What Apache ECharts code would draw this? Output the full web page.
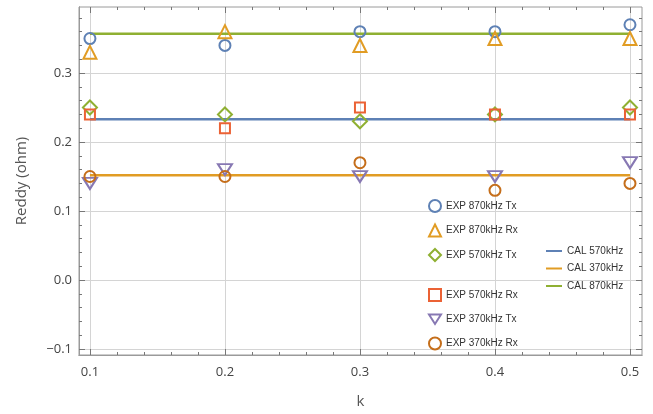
<!DOCTYPE html>
<html><head><meta charset="utf-8">
<script src="https://cdn.jsdelivr.net/npm/echarts@6/dist/echarts.min.js"></script>
<style>html,body{margin:0;padding:0;background:#fff}#c{width:653px;height:414px}</style>
</head><body><div id="c"></div>
<script>
// Coupling parameter k
const kValues = [0.1, 0.2, 0.3, 0.4, 0.5];

// Measured eddy-current resistance (ohm)
const exp870Tx = [0.35, 0.34, 0.36, 0.36, 0.37];
const exp870Rx = [0.33, 0.36, 0.34, 0.35, 0.35];
const exp570Tx = [0.25, 0.24, 0.23, 0.24, 0.25];
const exp570Rx = [0.24, 0.22, 0.25, 0.24, 0.24];
const exp370Tx = [0.14, 0.16, 0.15, 0.15, 0.17];
const exp370Rx = [0.15, 0.15, 0.17, 0.13, 0.14];

// Calculated values (constant over k)
const cal570 = 0.233;
const cal370 = 0.152;
const cal870 = 0.357;

// Tick marks
const xTicks = [0.1, 0.2, 0.3, 0.4, 0.5];
const yTicks = [-0.1, 0.0, 0.1, 0.2, 0.3];
const xMinorTicks = [0.12, 0.14, 0.16, 0.18, 0.22, 0.24, 0.26, 0.28, 0.32, 0.34, 0.36, 0.38, 0.42, 0.44, 0.46, 0.48];
const yMinorTicks = [-0.08, -0.06, -0.04, -0.02, 0.02, 0.04, 0.06, 0.08, 0.12, 0.14, 0.16, 0.18, 0.22, 0.24, 0.26, 0.28, 0.32, 0.34, 0.36, 0.38];

const X_MIN = 0.0919, X_MAX = 0.5089;
const Y_MIN = -0.1087, Y_MAX = 0.3957;

const C = {
  blue: '#5E81B5', orange: '#E19C24', green: '#8FB032',
  red: '#EB6235', purple: '#8778B3', brown: '#C56E1A'
};
const FRAME = '#9a9a9a';
const GRID = '#d4d4d4';
const downTri = 'path://M0,0 L12,0 L6,9.5 Z';
const lineIcon = 'path://M0,0 L16,0 L16,2 L0,2 Z';

function pts(vals) { return kValues.map((k, i) => [k, vals[i]]); }
function flat(v) { return [[kValues[0], v], [kValues[kValues.length - 1], v]]; }

function scatter(name, vals, color, symbol, size) {
  return {
    name, type: 'scatter', data: pts(vals), symbol, symbolSize: size,
    itemStyle: { color: 'rgba(255,255,255,0)', borderColor: color, borderWidth: 2, opacity: 1 },
    emphasis: { disabled: true }, z: 3
  };
}
function calLine(name, v, color) {
  return {
    name, type: 'line', data: flat(v), symbol: 'none',
    lineStyle: { color, width: 2.5 }, itemStyle: { color },
    emphasis: { disabled: true }, z: 2
  };
}

const tickFont = { color: '#444', fontSize: 13, fontFamily: 'Open Sans' };

function xAxisDef(pos, ticks, len, labels) {
  return {
    type: 'value', position: pos, min: X_MIN, max: X_MAX,
    axisLine: { show: pos === 'bottom', onZero: false, lineStyle: { color: FRAME, width: 1 } },
    axisTick: { show: true, inside: true, length: len, customValues: ticks, lineStyle: { color: '#777' } },
    axisLabel: labels ? Object.assign({ customValues: xTicks, formatter: v => v.toFixed(1), margin: 11 }, tickFont) : { show: false },
    splitLine: { show: labels, lineStyle: { color: GRID, width: 1 } }
  };
}
function yAxisDef(pos, ticks, len, labels) {
  return {
    type: 'value', position: pos, min: Y_MIN, max: Y_MAX,
    axisLine: { show: pos === 'left', onZero: false, lineStyle: { color: FRAME, width: 1 } },
    axisTick: { show: true, inside: true, length: len, customValues: ticks, lineStyle: { color: '#777' } },
    axisLabel: labels ? Object.assign({ customValues: yTicks, formatter: v => (v < 0 ? '\u2212' : '') + Math.abs(v).toFixed(1), margin: 7 }, tickFont) : { show: false },
    splitLine: { show: labels, lineStyle: { color: GRID, width: 1 } }
  };
}

const xAxes = [
  Object.assign(xAxisDef('bottom', xTicks, 6, true), { name: 'k', nameLocation: 'middle', nameGap: 39, nameTextStyle: { color: '#555', fontSize: 15, fontFamily: 'Open Sans' } }),
  xAxisDef('bottom', xMinorTicks, 3, false),
  xAxisDef('top', xTicks, 6, false),
  xAxisDef('top', xMinorTicks, 3, false)
];
const yAxes = [
  Object.assign(yAxisDef('left', yTicks, 6, true), { name: 'Reddy (ohm)', nameLocation: 'middle', nameGap: 50, nameTextStyle: { color: '#555', fontSize: 15, fontFamily: 'Open Sans' } }),
  yAxisDef('left', yMinorTicks, 3, false),
  yAxisDef('right', yTicks, 6, false),
  yAxisDef('right', yMinorTicks, 3, false)
];

const legendText = { color: '#333', fontSize: 10, fontFamily: 'Liberation Sans' };

const option = {
  animation: false,
  backgroundColor: '#fff',
  grid: { left: 79, right: 11, top: 7, bottom: 59, show: true, borderColor: FRAME, borderWidth: 1, backgroundColor: 'transparent' },
  xAxis: xAxes,
  yAxis: yAxes,
  legend: [
    { data: ['EXP 870kHz Tx', 'EXP 870kHz Rx', 'EXP 570kHz Tx'], orient: 'vertical', left: 423, top: 194,
      itemWidth: 12, itemHeight: 12, itemGap: 10.5, textStyle: legendText, selectedMode: false },
    { data: ['EXP 570kHz Rx', 'EXP 370kHz Tx', 'EXP 370kHz Rx'], orient: 'vertical', left: 423, top: 283,
      itemWidth: 12, itemHeight: 12, itemGap: 11.5, textStyle: legendText, selectedMode: false },
    { data: [
        { name: 'CAL 570kHz', icon: lineIcon },
        { name: 'CAL 370kHz', icon: lineIcon },
        { name: 'CAL 870kHz', icon: lineIcon }
      ], orient: 'vertical', left: 541, top: 241,
      itemWidth: 16, itemHeight: 2, itemGap: 7.5, textStyle: legendText, selectedMode: false }
  ],
  series: [
    calLine('CAL 570kHz', cal570, C.blue),
    calLine('CAL 370kHz', cal370, C.orange),
    calLine('CAL 870kHz', cal870, C.green),
    scatter('EXP 870kHz Tx', exp870Tx, C.blue, 'circle', 11),
    scatter('EXP 870kHz Rx', exp870Rx, C.orange, 'triangle', 13),
    scatter('EXP 570kHz Tx', exp570Tx, C.green, 'diamond', 14),
    scatter('EXP 570kHz Rx', exp570Rx, C.red, 'rect', 10),
    scatter('EXP 370kHz Tx', exp370Tx, C.purple, downTri, [14, 11]),
    scatter('EXP 370kHz Rx', exp370Rx, C.brown, 'circle', 11)
  ]
};

echarts.init(document.getElementById('c'), null, { renderer: 'canvas' }).setOption(option);
</script>
</body></html>
